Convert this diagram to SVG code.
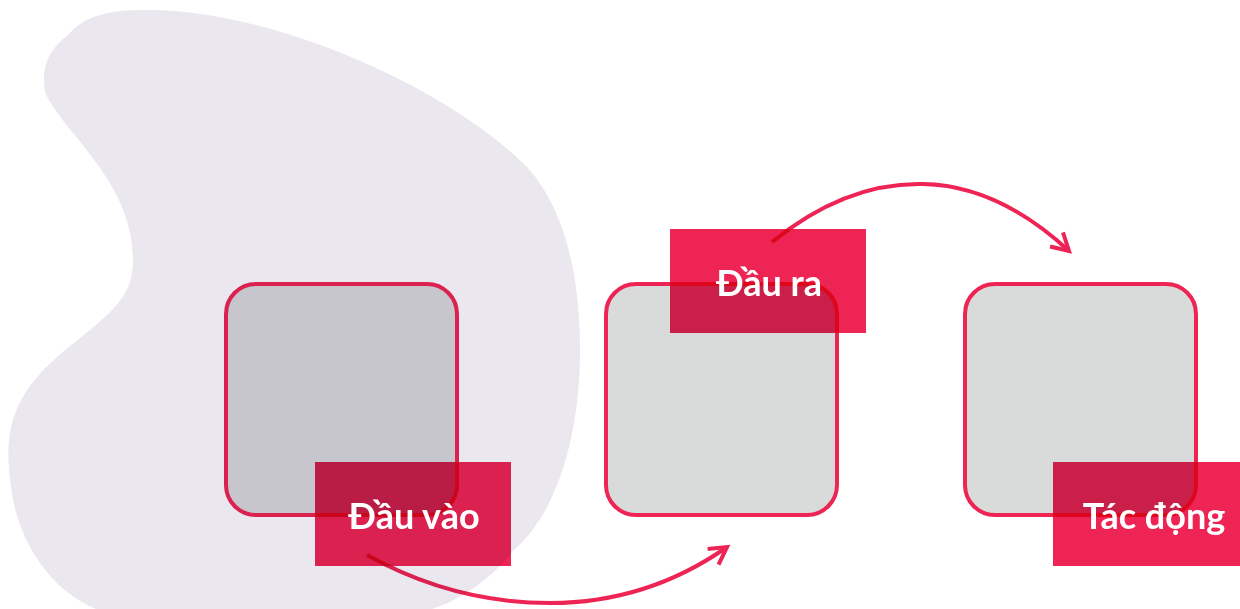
<svg xmlns="http://www.w3.org/2000/svg" width="1240" height="609" viewBox="0 0 1240 609">
  <defs>
    <style>
      .box { fill: #D8DBDA; stroke: #EE2455; stroke-width: 4; mix-blend-mode: multiply; }
      .tag { fill: #EE2455; mix-blend-mode: multiply; }
      .lbl { fill: #FFFFFF; font-family: Lato, "Noto Sans", "Liberation Sans", sans-serif; font-weight: bold; font-size: 36px; text-anchor: middle; }
      .conn { fill: none; stroke: #EE2455; stroke-width: 4; }
    </style>
    <marker id="arrow" markerUnits="userSpaceOnUse" markerWidth="40" markerHeight="40" viewBox="-20 -20 40 40" refX="0" refY="0" orient="auto" overflow="visible">
      <path d="M -17,-9.5 L 0,0 L -17,9.5" fill="none" stroke="#EE2455" stroke-width="4"/>
    </marker>
  </defs>
  <rect width="1240" height="609" fill="#FFFFFF"/>
  <path id="blob" d="M 145,10 C 260,8 440,80 528,168 C 570,215 580,290 580,350 C 580,430 560,510 513,551 C 490,580 460,600 432,609 L 96,609 C 50,590 15,540 10,478 C 0,400 40,370 90,330 C 120,305 133,290 133,260 C 133,180 60,130 45,92 C 40,60 55,45 68,35 C 85,15 110,10 145,10 Z" fill="#EAE7EF"/>
  <g id="node-input">
    <rect class="box" x="226" y="284" width="231" height="231" rx="30"/>
    <rect class="tag" x="315" y="462" width="196" height="104"/>
    <text class="lbl" x="414" y="529">Đầu vào</text>
  </g>
  <g id="node-output">
    <rect class="box" x="606" y="284" width="231" height="231" rx="30"/>
    <rect class="tag" x="670" y="229" width="196" height="104"/>
    <text class="lbl" x="769" y="296">Đầu ra</text>
  </g>
  <g id="node-impact">
    <rect class="box" x="965" y="284" width="231" height="231" rx="30"/>
    <rect class="tag" x="1053" y="462" width="196" height="104"/>
    <text class="lbl" x="1154" y="529">Tác động</text>
  </g>
  <g id="connectors" style="mix-blend-mode: multiply;">
    <path class="conn" d="M 367,555 C 430,590 490,603 550,603 C 620,603 680,580 727,547" marker-end="url(#arrow)"/>
    <path class="conn" d="M 772,242 C 830,195 880,183 923,184 C 980,185 1030,215 1069,251" marker-end="url(#arrow)"/>
  </g>
</svg>
